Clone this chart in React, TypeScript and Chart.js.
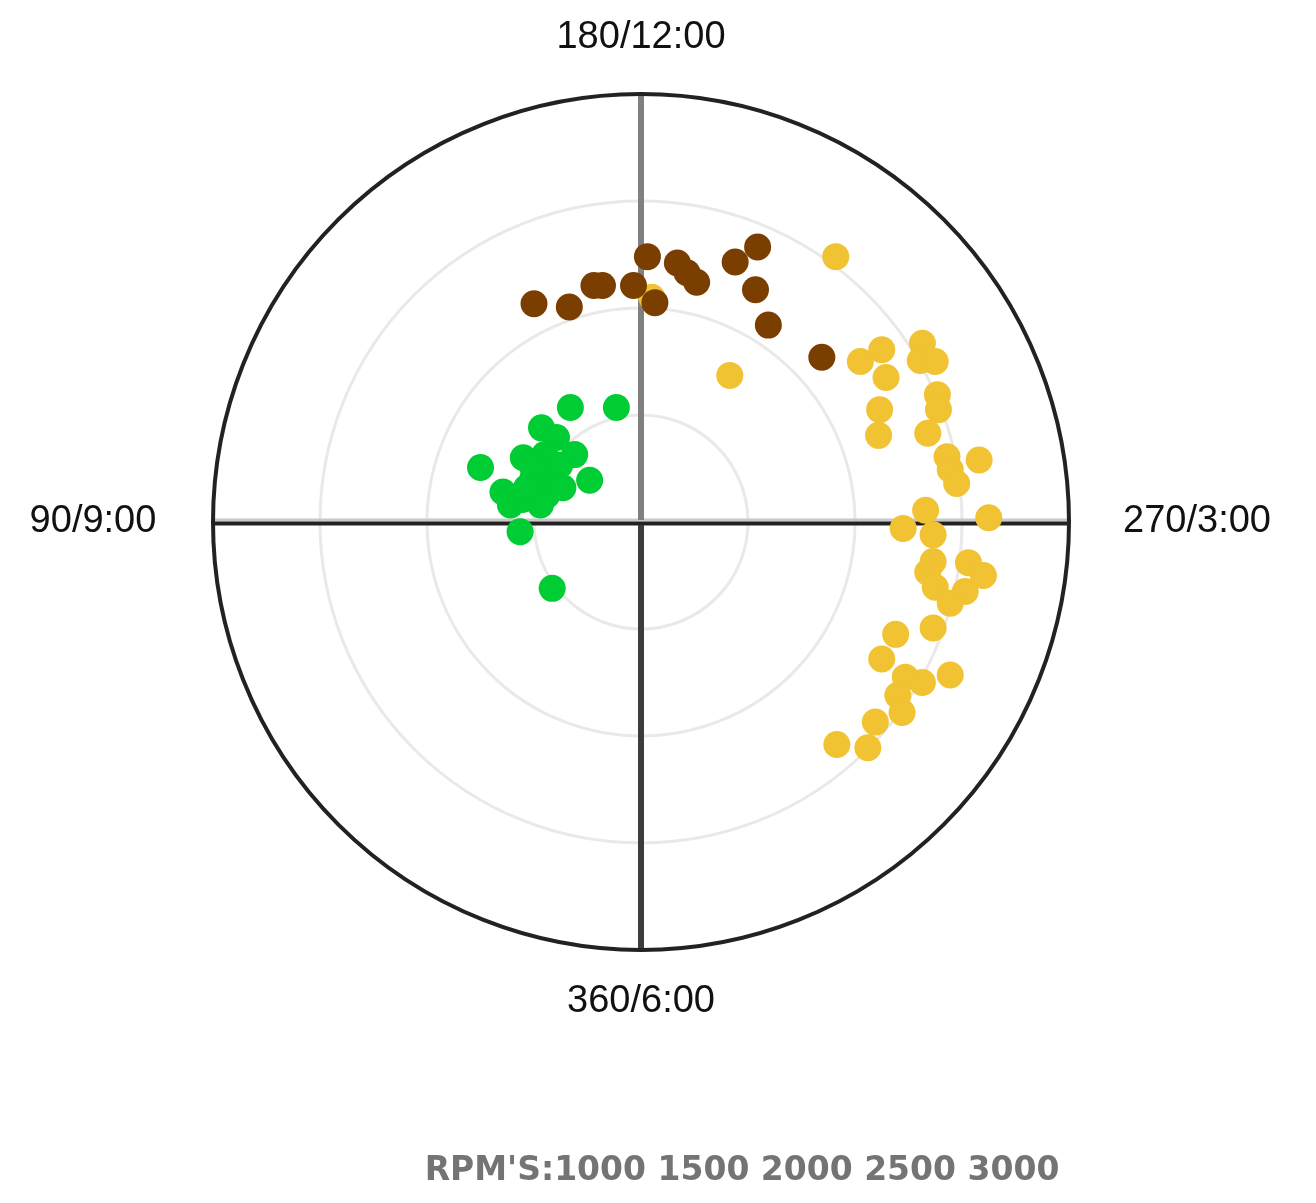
import React, { useEffect, useRef } from "react";
import { Chart, registerables } from "chart.js";

Chart.register(...registerables);

// Points in ring units (outer ring = 4), x to the right, y upward from centre
const greenX = [-0.66, -0.23, -1.5, -0.93, -0.79, -1.1, -0.9, -0.62, -0.48, -0.82, -1.01, -1.29, -1.22, -1.11, -0.88, -0.73, -1.13, -0.83, -1.02, -0.76, -0.94, -1.07];
const greenY = [1.07, 1.07, 0.51, 0.88, 0.79, 0.6, 0.63, 0.63, 0.39, 0.47, 0.41, 0.28, 0.16, 0.21, 0.25, 0.32, -0.09, -0.62, 0.53, 0.53, 0.16, 0.32];

const brownX = [-1.0, -0.67, -0.44, -0.36, -0.07, 0.06, 0.13, 0.34, 0.43, 0.52, 0.88, 1.09, 1.07, 1.19, 1.69];
const brownY = [2.04, 2.01, 2.21, 2.21, 2.21, 2.48, 2.05, 2.42, 2.33, 2.24, 2.43, 2.57, 2.17, 1.84, 1.54];

const yellowX = [1.82, 0.83, 0.1, 2.05, 2.25, 2.29, 2.63, 2.61, 2.75, 2.77, 2.78, 2.23, 2.22, 2.68, 2.86, 2.89, 3.16, 2.95, 2.66, 3.25, 2.45, 2.73, 2.73, 2.68, 3.06, 3.2, 2.75, 3.03, 2.89, 2.73, 2.38, 2.25, 2.47, 2.63, 2.89, 2.4, 2.44, 2.19, 1.83, 2.12];
const yellowY = [2.48, 1.37, 2.1, 1.5, 1.61, 1.35, 1.67, 1.51, 1.5, 1.19, 1.05, 1.05, 0.81, 0.83, 0.61, 0.49, 0.58, 0.36, 0.11, 0.04, -0.06, -0.12, -0.37, -0.47, -0.38, -0.5, -0.61, -0.65, -0.76, -0.99, -1.05, -1.28, -1.45, -1.5, -1.43, -1.62, -1.78, -1.87, -2.08, -2.11];

const rings = [1, 2, 3];
const outerRing = 4;
const angleLabels = ["180/12:00", "90/9:00", "270/3:00", "360/6:00"];
const rpmLabel = "RPM'S:1000 1500 2000 2500 3000";

const toPts = (xs: number[], ys: number[]) => xs.map((x, i) => ({ x, y: ys[i] }));

const polarPlugin = {
  id: "polarGrid",
  beforeDatasetsDraw(chart: any) {
    const { ctx } = chart;
    const xs = chart.scales.x;
    const ys = chart.scales.y;
    const cx = xs.getPixelForValue(0);
    const cy = ys.getPixelForValue(0);
    const unit = xs.getPixelForValue(1) - cx;
    ctx.save();
    // inner rings
    ctx.strokeStyle = "#e9e9e9";
    ctx.lineWidth = 3;
    rings.forEach((r) => {
      ctx.beginPath();
      ctx.arc(cx, cy, r * unit, 0, Math.PI * 2);
      ctx.stroke();
    });
    const R = outerRing * unit;
    // horizontal axis: light grey + black
    ctx.lineWidth = 3;
    ctx.strokeStyle = "#c8c8c8";
    ctx.beginPath();
    ctx.moveTo(cx - R, cy - 2);
    ctx.lineTo(cx + R, cy - 2);
    ctx.stroke();
    ctx.lineWidth = 4;
    ctx.strokeStyle = "#222222";
    ctx.beginPath();
    ctx.moveTo(cx - R, cy + 1.5);
    ctx.lineTo(cx + R, cy + 1.5);
    ctx.stroke();
    // vertical axis: grey top, dark bottom
    ctx.lineWidth = 6;
    ctx.strokeStyle = "#808080";
    ctx.beginPath();
    ctx.moveTo(cx, cy - R);
    ctx.lineTo(cx, cy - 2);
    ctx.stroke();
    ctx.strokeStyle = "#3c3c3c";
    ctx.beginPath();
    ctx.moveTo(cx, cy + 3);
    ctx.lineTo(cx, cy + R);
    ctx.stroke();
    // outer circle
    ctx.lineWidth = 4;
    ctx.strokeStyle = "#222222";
    ctx.beginPath();
    ctx.arc(cx, cy, R, 0, Math.PI * 2);
    ctx.stroke();
    // labels
    ctx.fillStyle = "#111111";
    ctx.font = "38px 'Liberation Sans', Arial, sans-serif";
    ctx.textAlign = "center";
    ctx.textBaseline = "middle";
    ctx.fillText(angleLabels[0], cx, cy - R - 56);
    ctx.fillText(angleLabels[3], cx, cy + R + 52);
    ctx.fillText(angleLabels[1], cx - R - 120, cy);
    ctx.fillText(angleLabels[2], cx + R + 128, cy);
    ctx.fillStyle = "#747474";
    ctx.font = "bold 33px 'DejaVu Sans', sans-serif";
    ctx.fillText(rpmLabel, cx + 101, cy + R + 221);
    ctx.restore();
  },
};

export default function App() {
  const ref = useRef<HTMLCanvasElement | null>(null);
  useEffect(() => {
    if (!ref.current) return;
    const chart = new Chart(ref.current, {
      type: "scatter",
      data: {
        datasets: [
          { label: "green", data: toPts(greenX, greenY), backgroundColor: "#00cc33", borderWidth: 0, pointRadius: 13.5, pointHoverRadius: 13.5 },
          { label: "brown", data: toPts(brownX, brownY), backgroundColor: "#7a3e00", borderWidth: 0, pointRadius: 13.5, pointHoverRadius: 13.5 },
          { label: "yellow", data: toPts(yellowX, yellowY), backgroundColor: "#f1c232", borderWidth: 0, pointRadius: 13.5, pointHoverRadius: 13.5 },
        ],
      },
      options: {
        animation: false,
        responsive: false,
        maintainAspectRatio: false,
        layout: { padding: { left: 213, right: 247, top: 94, bottom: 253 } },
        scales: {
          x: { type: "linear", min: -4, max: 4, display: false },
          y: { type: "linear", min: -4, max: 4, display: false },
        },
        plugins: { legend: { display: false }, tooltip: { enabled: false } },
      },
      plugins: [polarPlugin],
    });
    return () => chart.destroy();
  }, []);
  return (
    <div style={{ position: "absolute", left: 0, top: 0, width: 1316, height: 1203, background: "#fff" }}>
      <canvas ref={ref} width={1316} height={1203} style={{ display: "block" }} />
    </div>
  );
}
